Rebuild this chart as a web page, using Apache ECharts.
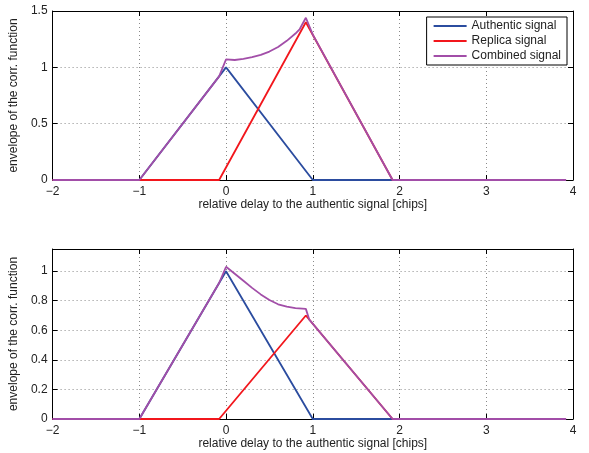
<!DOCTYPE html>
<html>
<head>
<meta charset="utf-8">
<script src="https://cdn.jsdelivr.net/npm/echarts@6/dist/echarts.min.js"></script>
<style>
html,body{margin:0;padding:0;background:#fff;}
#chart{width:589px;height:453px;}
</style>
</head>
<body>
<div id="chart"></div>
<script>
// ---- data ----
const xLabel = 'relative delay to the authentic signal [chips]';
const yLabel = 'envelope of the corr. function';
const seriesNames = ['Authentic signal', 'Replica signal', 'Combined signal'];

// top panel
const authX = [-2, -1, 0, 1, 3.92];
const authY = [0, 0, 1, 0, 0];
const rep1X = [-2, -0.08, 0.92, 1.92, 3.92];
const rep1Y = [0, 0, 1.4, 0, 0];
const comb1X = [-2, -1, -0.08, 0, 0.1, 0.2, 0.3, 0.4, 0.5, 0.6, 0.7, 0.8, 0.85, 0.92, 1.0, 1.92, 3.92];
const comb1Y = [0, 0, 0.92, 1.07, 1.065, 1.075, 1.09, 1.11, 1.14, 1.18, 1.235, 1.30, 1.34, 1.44, 1.29, 0, 0];

// bottom panel
const rep2X = [-2, -0.08, 0.92, 1.92, 3.92];
const rep2Y = [0, 0, 0.7, 0, 0];
const comb2X = [-2, -1, -0.08, 0, 0.1, 0.2, 0.3, 0.4, 0.5, 0.6, 0.7, 0.8, 0.92, 0.96, 1.92, 3.92];
const comb2Y = [0, 0, 0.92, 1.03, 0.983, 0.935, 0.887, 0.843, 0.805, 0.776, 0.76, 0.75, 0.745, 0.672, 0, 0];

// axes
const xMin = -2, xMax = 4, xStep = 1;
const y1Min = 0, y1Max = 1.5, y1Step = 0.5;
const y2Min = 0, y2Max = 1.15, y2Step = 0.2;

const colors = ['#2b4c9f', '#f2161c', '#a24ea8'];

function pairs(xs, ys) { return xs.map((x, i) => [x, ys[i]]); }
const fmt = v => String(+v.toFixed(2)).replace('-', '\u2212');
const FONT = 'Liberation Sans, Arial, Helvetica, sans-serif';
const txt = { color: '#222', fontFamily: FONT, fontSize: 12 };

const grids = [
  { left: 52, right: 16, top: 11, height: 169 },
  { left: 52, right: 16, top: 249, height: 170 }
];

const frameLine = { show: true, onZero: false, lineStyle: { color: '#000', width: 1 } };
const tick = { show: true, inside: true, length: 5, lineStyle: { color: '#000' } };
const grid = { show: true, lineStyle: { color: '#8a8a8a', type: [1, 3], width: 1 } };

function xAxes(gi) {
  return [
    {
      type: 'value', gridIndex: gi, position: 'bottom', min: xMin, max: xMax, interval: xStep,
      name: xLabel, nameLocation: 'middle', nameGap: 19, nameTextStyle: txt,
      axisLine: frameLine, axisTick: tick,
      axisLabel: { ...txt, margin: 6, formatter: fmt },
      splitLine: grid
    },
    {
      type: 'value', gridIndex: gi, position: 'top', min: xMin, max: xMax, interval: xStep, z: 5,
      axisLine: frameLine, axisTick: tick,
      axisLabel: { show: false }, splitLine: { show: false }
    }
  ];
}
function yAxes(gi, mn, mx, st) {
  const onTick = Math.abs(mx / st - Math.round(mx / st)) < 1e-9;
  return [
    {
      type: 'value', gridIndex: gi, position: 'left', min: mn, max: mx, interval: st,
      name: yLabel, nameLocation: 'middle', nameGap: 26, nameTextStyle: txt,
      axisLine: frameLine, axisTick: tick,
      axisLabel: { ...txt, margin: 5, showMaxLabel: onTick, formatter: fmt },
      splitLine: grid
    },
    {
      type: 'value', gridIndex: gi, position: 'right', min: mn, max: mx, interval: st, z: 5,
      axisLine: frameLine, axisTick: tick,
      axisLabel: { show: false }, splitLine: { show: false }
    }
  ];
}

function line(name, data, ci, xi, yi) {
  return {
    name, type: 'line', data, xAxisIndex: xi, yAxisIndex: yi,
    symbol: 'none', showSymbol: false, animation: false,
    lineStyle: { color: colors[ci], width: 1.8 }, itemStyle: { color: colors[ci] }
  };
}

const chart = echarts.init(document.getElementById('chart'), null, { renderer: 'canvas' });
chart.setOption({
  animation: false,
  backgroundColor: '#fff',
  grid: grids,
  xAxis: [...xAxes(0), ...xAxes(1)],
  yAxis: [...yAxes(0, y1Min, y1Max, y1Step), ...yAxes(1, y2Min, y2Max, y2Step)],
  legend: {
    data: seriesNames, orient: 'vertical', right: 22, top: 17,
    icon: 'rect',
    backgroundColor: '#fff', borderColor: '#000', borderWidth: 1, borderRadius: 0,
    padding: [2, 6, 2, 7], itemWidth: 33, itemHeight: 2, itemGap: 1,
    textStyle: { color: '#222', fontFamily: FONT, fontSize: 12, lineHeight: 14 }
  },
  series: [
    line(seriesNames[0], pairs(authX, authY), 0, 0, 0),
    line(seriesNames[1], pairs(rep1X, rep1Y), 1, 0, 0),
    line(seriesNames[2], pairs(comb1X, comb1Y), 2, 0, 0),
    line(seriesNames[0], pairs(authX, authY), 0, 2, 2),
    line(seriesNames[1], pairs(rep2X, rep2Y), 1, 2, 2),
    line(seriesNames[2], pairs(comb2X, comb2Y), 2, 2, 2)
  ]
});
</script>
</body>
</html>
